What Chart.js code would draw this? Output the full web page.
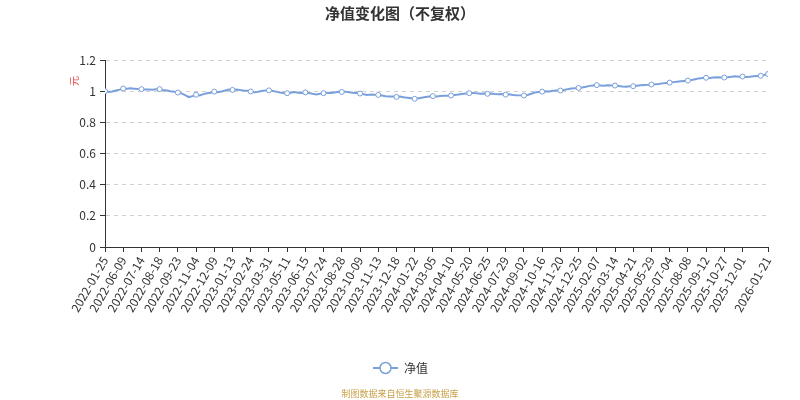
<!DOCTYPE html>
<html>
<head>
<meta charset="utf-8">
<script src="https://cdn.jsdelivr.net/npm/chart.js@4.4.1/dist/chart.umd.min.js"></script>
<style>
  html, body { margin: 0; padding: 0; background: #fff; }
  #wrap { width: 800px; height: 400px; }
</style>
</head>
<body>
<div id="wrap"><canvas id="navChart" width="800" height="400"></canvas></div>
<script>
// --- Data ---
const chartTitle = "净值变化图（不复权）";
const seriesName = "净值";
const yUnit = "元";
const sourceNote = "制图数据来自恒生聚源数据库";

// axis labels and the point index where each one sits
const dateLabels = [
    "2022-01-25", "2022-06-09", "2022-07-14", "2022-08-18", "2022-09-23",
    "2022-11-04", "2022-12-09", "2023-01-13", "2023-02-24", "2023-03-31",
    "2023-05-11", "2023-06-15", "2023-07-24", "2023-08-28", "2023-10-09",
    "2023-11-13", "2023-12-18", "2024-01-22", "2024-03-05", "2024-04-10",
    "2024-05-20", "2024-06-25", "2024-07-29", "2024-09-02", "2024-10-16",
    "2024-11-20", "2024-12-25", "2025-02-07", "2025-03-14", "2025-04-21",
    "2025-05-29", "2025-07-04", "2025-08-08", "2025-09-12", "2025-10-27",
    "2025-12-01", "2026-01-21"
];
const labelIndex = [
    0, 5, 10, 15, 20, 25, 30, 35, 40, 45, 50, 55, 60, 65, 70, 75, 80, 85,
    90, 95, 100, 105, 110, 115, 120, 125, 130, 135, 140, 145, 150, 155,
    160, 165, 170, 175, 182
];
// points that carry a marker
const markerIndex = [
    0, 5, 10, 15, 20, 25, 30, 35, 40, 45, 50, 55, 60, 65, 70, 75, 80, 85,
    90, 95, 100, 105, 110, 115, 120, 125, 130, 135, 140, 145, 150, 155,
    160, 165, 170, 175, 180, 182
];

// unit NAV, one value per point
const navValues = [
    1.000, 0.995, 0.998, 1.004, 1.010,
    1.017, 1.015, 1.018, 1.016, 1.014,
    1.013, 1.010, 1.011, 1.009, 1.012,
    1.013, 1.008, 1.004, 1.000, 0.997,
    0.991, 0.986, 0.975, 0.962, 0.968,
    0.977, 0.973, 0.981, 0.986, 0.990,
    0.997, 0.993, 0.998, 1.004, 1.010,
    1.008, 1.011, 1.007, 1.004, 1.002,
    0.998, 0.993, 0.996, 1.001, 1.004,
    1.005, 1.001, 0.997, 0.992, 0.989,
    0.987, 0.990, 0.994, 0.990, 0.988,
    0.992, 0.988, 0.983, 0.979, 0.984,
    0.987, 0.990, 0.988, 0.992, 0.996,
    0.995, 0.997, 0.993, 0.990, 0.988,
    0.985, 0.980, 0.975, 0.979, 0.977,
    0.976, 0.972, 0.968, 0.966, 0.965,
    0.963, 0.965, 0.961, 0.958, 0.955,
    0.951, 0.954, 0.958, 0.962, 0.966,
    0.968, 0.966, 0.969, 0.971, 0.970,
    0.972, 0.975, 0.978, 0.982, 0.985,
    0.987, 0.989, 0.986, 0.984, 0.985,
    0.983, 0.985, 0.982, 0.980, 0.981,
    0.978, 0.980, 0.976, 0.974, 0.973,
    0.972, 0.975, 0.983, 0.991, 0.995,
    0.997, 1.000, 0.998, 1.002, 1.005,
    1.004, 1.008, 1.013, 1.017, 1.019,
    1.021, 1.023, 1.028, 1.034, 1.037,
    1.039, 1.037, 1.035, 1.038, 1.036,
    1.036, 1.033, 1.030, 1.029, 1.031,
    1.032, 1.035, 1.038, 1.040, 1.041,
    1.043, 1.044, 1.046, 1.050, 1.053,
    1.055, 1.058, 1.061, 1.064, 1.066,
    1.068, 1.072, 1.077, 1.082, 1.084,
    1.086, 1.085, 1.087, 1.089, 1.087,
    1.088, 1.090, 1.093, 1.095, 1.092,
    1.094, 1.091, 1.093, 1.096, 1.098,
    1.099, 1.104, 1.110
];

const yTicks = [0, 0.2, 0.4, 0.6, 0.8, 1, 1.2];

// --- Styling ---
const FONT = "'Noto Sans CJK SC', 'Noto Sans', sans-serif";
const lineColor = "#7aa0dc";
const axisColor = "#333";

const points = navValues.map((v, i) => ({ x: i, y: v }));
const radii = navValues.map((v, i) => (markerIndex.includes(i) ? 2.5 : 0));

// title, rotated unit name, legend and source note
const decorPlugin = {
    id: "decor",
    afterDraw(chart) {
        const c = chart.ctx;
        c.save();
        c.textAlign = "center";
        c.textBaseline = "middle";
        c.fillStyle = "#333";
        c.font = "bold 15px " + FONT;
        c.fillText(chartTitle, 400, 13);

        // unit
        c.save();
        c.translate(74, 81);
        c.rotate(-Math.PI / 2);
        c.fillStyle = "#ee4444";
        c.font = "10px " + FONT;
        c.fillText(yUnit, 0, 0);
        c.restore();

        // legend
        c.strokeStyle = lineColor;
        c.lineWidth = 2;
        c.beginPath();
        c.moveTo(373, 368);
        c.lineTo(398, 368);
        c.stroke();
        c.lineWidth = 1.5;
        c.beginPath();
        c.arc(385.5, 368, 5.5, 0, Math.PI * 2);
        c.fillStyle = "#fff";
        c.fill();
        c.stroke();
        c.fillStyle = "#333";
        c.textAlign = "left";
        c.font = "12px " + FONT;
        c.fillText(seriesName, 404, 368);

        // source
        c.textAlign = "center";
        c.fillStyle = "#c9a04a";
        c.font = "9px " + FONT;
        c.fillText(sourceNote, 400, 394);
        c.restore();
    },
};

new Chart(document.getElementById("navChart"), {
    type: "line",
    data: {
        datasets: [
            {
                label: seriesName,
                data: points,
                borderColor: lineColor,
                borderWidth: 2,
                backgroundColor: "#fff",
                pointBackgroundColor: "#fff",
                pointBorderColor: lineColor,
                pointBorderWidth: 1,
                pointRadius: radii,
                tension: 0,
            },
        ],
    },
    options: {
        responsive: false,
        animation: false,
        layout: { padding: { left: 0, right: 32, top: 60, bottom: 0 } },
        plugins: {
            legend: { display: false },
            tooltip: { enabled: false },
        },
        scales: {
            x: {
                type: "linear",
                min: 0,
                max: navValues.length - 1,
                afterBuildTicks(scale) {
                    scale.ticks = labelIndex.map((v) => ({ value: v }));
                },
                afterFit(scale) {
                    scale.height = 153;
                },
                ticks: {
                    autoSkip: false,
                    minRotation: 60,
                    maxRotation: 60,
                    padding: 2,
                    color: axisColor,
                    font: { family: FONT, size: 12 },
                    callback: (v) => {
                        const k = labelIndex.indexOf(v);
                        return k >= 0 ? dateLabels[k] : "";
                    },
                },
                grid: {
                    drawOnChartArea: false,
                    drawTicks: true,
                    tickLength: 5,
                    tickColor: axisColor,
                },
                border: { display: true, color: axisColor, width: 1 },
            },
            y: {
                min: 0,
                max: 1.2,
                afterBuildTicks(scale) {
                    scale.ticks = yTicks.map((v) => ({ value: v }));
                },
                afterFit(scale) {
                    scale.width = 105;
                },
                ticks: {
                    padding: 4,
                    color: axisColor,
                    font: { family: FONT, size: 12 },
                    callback: (v) => String(parseFloat(v.toFixed(1))),
                },
                grid: {
                    color: "#d0d0d0",
                    drawTicks: true,
                    tickLength: 5,
                    tickColor: axisColor,
                    tickBorderDash: [],
                },
                border: { display: true, color: axisColor, width: 1, dash: [4, 4] },
            },
        },
    },
    plugins: [decorPlugin],
});
</script>
</body>
</html>
